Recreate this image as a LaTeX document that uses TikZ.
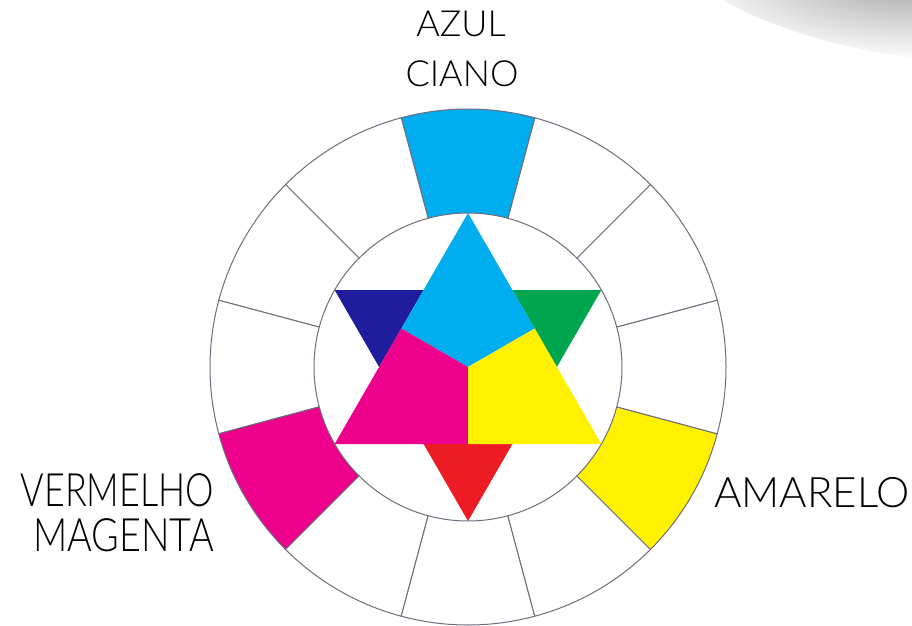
\documentclass[tikz,border=0pt]{standalone}
\usepackage{fontspec}
\setmainfont{Lato}[UprightFont=* Light]
\definecolor{rim}{RGB}{112,108,126}
\definecolor{cCiano}{RGB}{0,173,238}
\definecolor{cMagenta}{RGB}{236,0,140}
\definecolor{cAmarelo}{RGB}{255,241,0}
\definecolor{cAzul}{RGB}{32,28,158}
\definecolor{cVerde}{RGB}{0,165,80}
\definecolor{cVermelho}{RGB}{237,28,36}

\begin{document}
\begin{tikzpicture}[x=1pt,y=1pt,
 seg/.style={draw=rim,line width=1pt},
 lbl/.style={inner sep=0pt,font=\fontsize{36}{36}\selectfont}]
\useasboundingbox (0,0) rectangle (912,625);
% shadow in the top right corner
\begin{scope}
\clip (0,0) rectangle (912,625);
\shade[inner color=black!36,outer color=white,rotate around={-9:(910,640)}] (910,640) ellipse (230 and 72);
\end{scope}
\begin{scope}[shift={(468,258)}]
% outer ring, twelve fields
\foreach \a/\col in {15/white,45/white,75/cCiano,105/white,135/white,165/white,
                     195/cMagenta,225/white,255/white,285/white,315/cAmarelo,345/white}
  \draw[seg,fill=\col] (\a:154) arc[start angle=\a,end angle=\a+30,radius=154]
    -- (\a+30:258) arc[start angle=\a+30,end angle=\a,radius=258] -- cycle;
% secondary colours
\foreach \a/\col in {150/cAzul,30/cVerde,270/cVermelho}
  \fill[\col] (\a:154) -- (\a-30:88.9) -- (\a+30:88.9) -- cycle;
% primary colours
\foreach \a/\col in {90/cCiano,210/cMagenta,330/cAmarelo}
  \fill[\col] (\a:154) -- (\a+60:77) -- (0,0) -- (\a-60:77) -- cycle;
\end{scope}
\node[lbl,anchor=base] (azul) at (461,588) {AZUL};
\node[lbl,anchor=base] (ciano) at (462,538) {CIANO};
\node[lbl,anchor=base west,font=\fontsize{42}{42}\selectfont] (amarelo) at (714,118) {AMARELO};
\node[lbl,anchor=north east,align=right,font=\fontsize{46}{45}\selectfont] (vermelho) at (214,152)
  {\scalebox{0.78}[1]{VERMELHO}\\\scalebox{0.82}[1]{MAGENTA}};
\end{tikzpicture}
\end{document}
